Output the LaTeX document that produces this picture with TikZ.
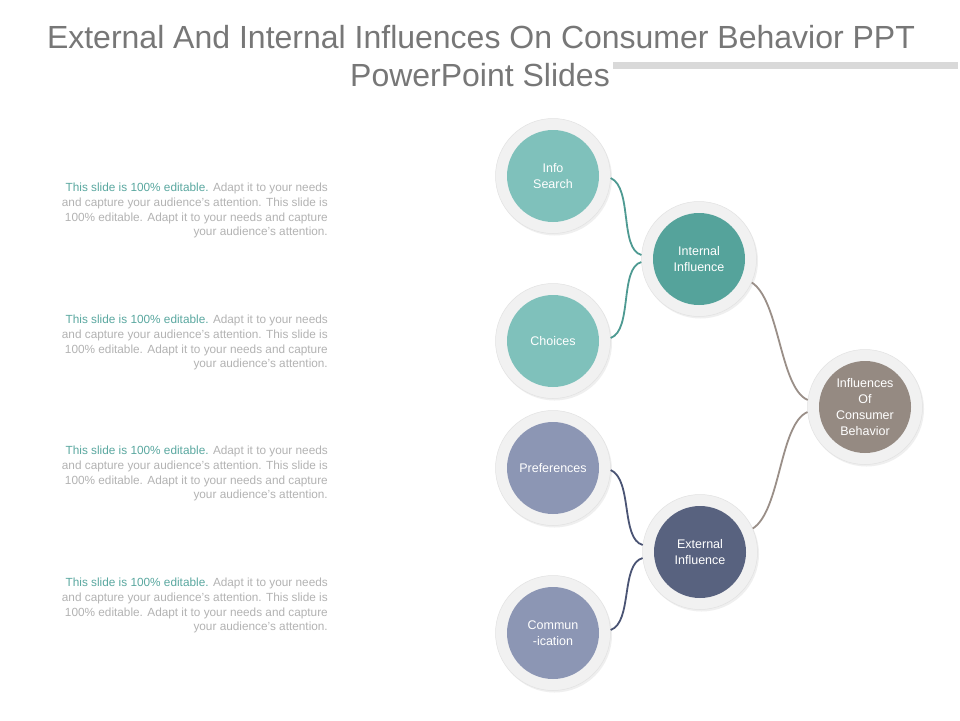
\documentclass[tikz,border=0pt]{standalone}
\usepackage{fontspec}
\setmainfont{Liberation Sans}
\usetikzlibrary{shadows}
\definecolor{titlec}{HTML}{777777}
\definecolor{barc}{HTML}{D9D9D9}
\definecolor{ringc}{HTML}{F1F1F1}
\definecolor{ringd}{HTML}{E2E2E2}
\definecolor{tealL}{HTML}{7FC1BB}
\definecolor{tealD}{HTML}{55A39B}
\definecolor{navyL}{HTML}{8C96B4}
\definecolor{navyD}{HTML}{58627F}
\definecolor{brownc}{HTML}{958A82}
\definecolor{tealline}{HTML}{4E9A92}
\definecolor{navyline}{HTML}{4A5474}
\definecolor{grayline}{HTML}{9A8F88}
\definecolor{hilite}{HTML}{5AA8A0}
\definecolor{bodyc}{HTML}{B3B3B3}
\tikzset{
  ring/.style={circle, minimum size=115pt, inner sep=0pt, fill=ringc, draw=ringd, line width=0.5pt,
    drop shadow={shadow xshift=1.5pt, shadow yshift=-2pt, opacity=0.12}},
  core/.style={circle, minimum size=92pt, inner sep=0pt, fill=#1, text=white, align=center,
    font=\fontsize{12.5}{16}\selectfont},
  link/.style={line width=1.8pt, draw=#1},
  bodytext/.style={anchor=north east, align=right, inner sep=0pt, text=bodyc,
    font=\fontsize{11.8}{14.7}\selectfont},
}
\newcommand{\bodypara}{{\color{hilite}This slide is 100\% editable.} Adapt it to your needs\\
and capture your audience's attention. This slide is\\
100\% editable. Adapt it to your needs and capture\\
your audience's attention.}
\begin{document}
\begin{tikzpicture}[x=1pt,y=-1pt]
\useasboundingbox (0,0) rectangle (960,720);
\fill[white] (0,0) rectangle (960,720);
% title
\node[text=titlec, font=\fontsize{32}{38}\selectfont, inner sep=0pt] (t1) at (481,37) {External And Internal Influences On Consumer Behavior PPT};
\node[text=titlec, font=\fontsize{32}{38}\selectfont, inner sep=0pt] (t2) at (480,75) {PowerPoint Slides};
\fill[barc] (613,62) rectangle (958,69);
% body texts
\node[bodytext] (p1) at (328,183) {\bodypara};
\node[bodytext] (p2) at (328,315) {\bodypara};
\node[bodytext] (p3) at (328,446) {\bodypara};
\node[bodytext] (p4) at (328,578) {\bodypara};
% rings
\node[ring] (info) at (553,176) {};
\node[ring] (choi) at (553,341) {};
\node[ring] (pref) at (553,468) {};
\node[ring] (comm) at (553,633) {};
\node[ring] (intl) at (699,259) {};
\node[ring] (extl) at (700,552) {};
\node[ring] (main) at (865,407) {};
% connectors
\draw[link=tealline] (info.-2) .. controls +(22,10) and +(-22,-6) .. (intl.176);
\draw[link=tealline] (choi.3) .. controls +(22,-8) and +(-22,6) .. (intl.183);
\draw[link=navyline] (pref.-2) .. controls +(22,10) and +(-22,-6) .. (extl.173);
\draw[link=navyline] (comm.3) .. controls +(22,-8) and +(-22,6) .. (extl.186);
\draw[link=grayline] (intl.-24) .. controls +(28,18) and +(-28,-12) .. (main.173);
\draw[link=grayline] (main.185) .. controls +(-28,12) and +(28,-18) .. (extl.24);
% cores
\node[core=tealL] (infoC) at (info) {Info\\Search};
\node[core=tealL] (choiC) at (choi) {Choices};
\node[core=navyL] (prefC) at (pref) {Preferences};
\node[core=navyL] (commC) at (comm) {Commun\\-ication};
\node[core=tealD] (intlC) at (intl) {Internal\\Influence};
\node[core=navyD] (extlC) at (extl) {External\\Influence};
\node[core=brownc] (mainC) at (main) {Influences\\Of\\Consumer\\Behavior};
\end{tikzpicture}
\end{document}
